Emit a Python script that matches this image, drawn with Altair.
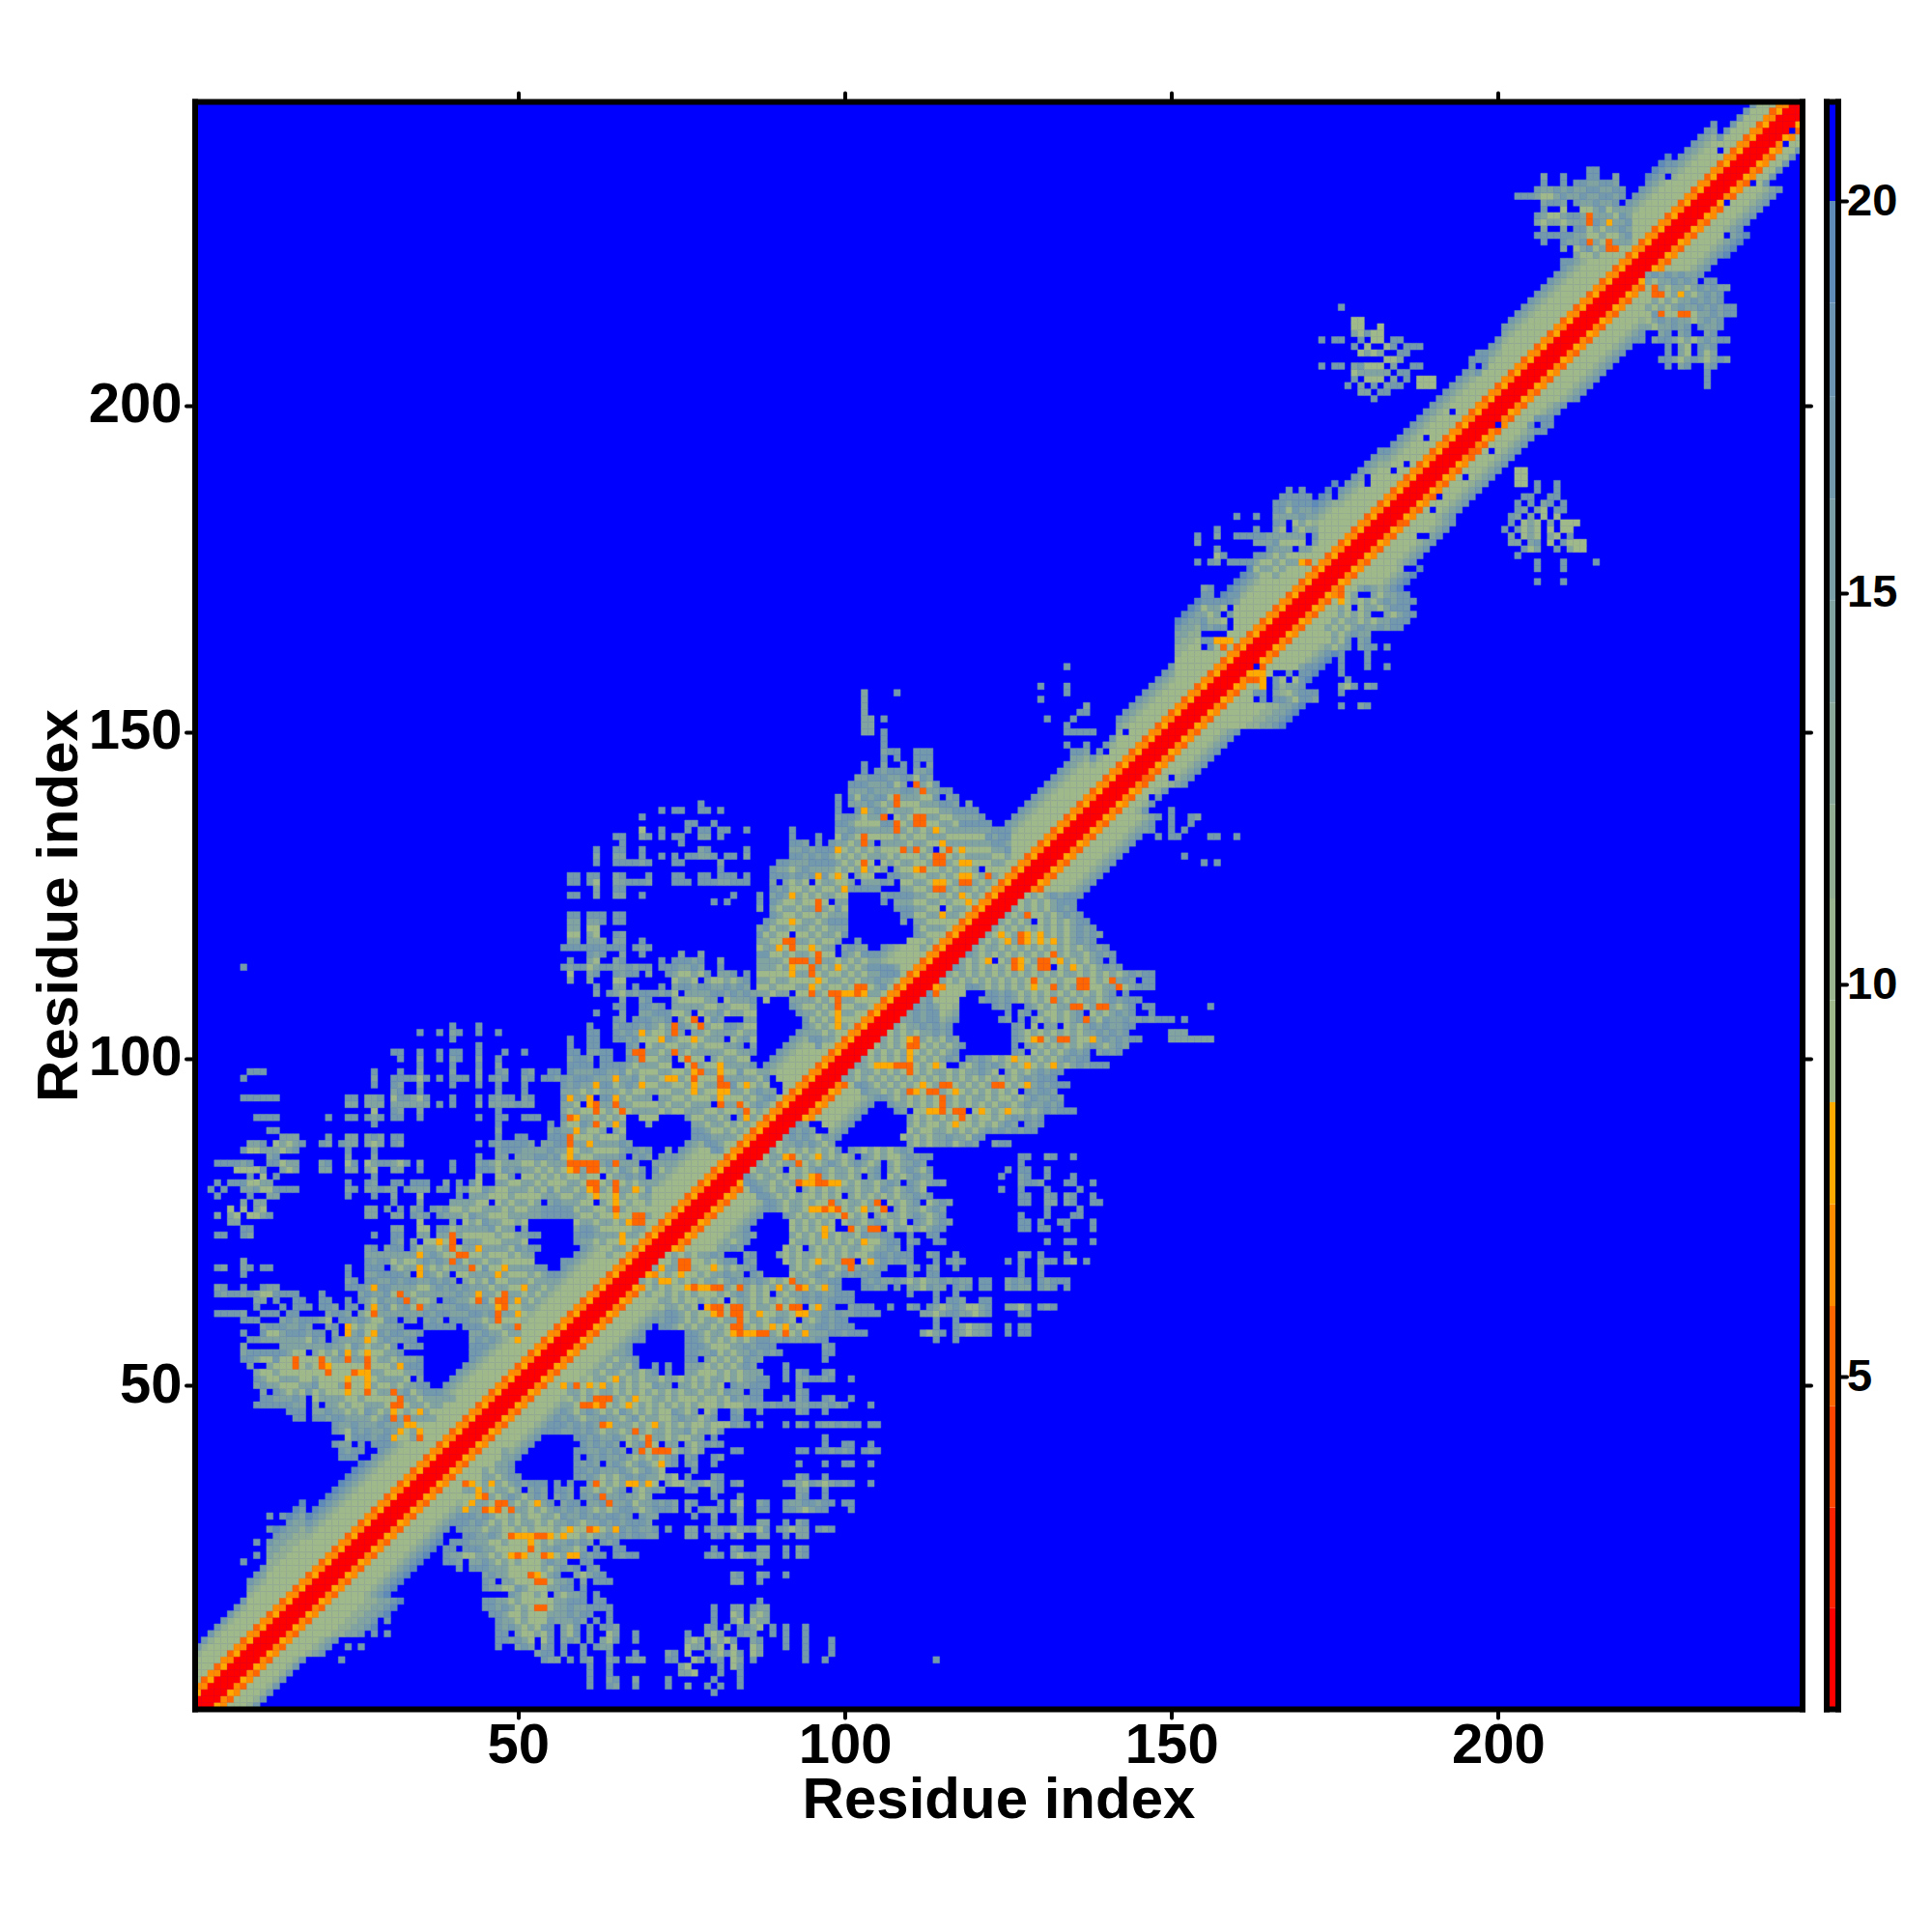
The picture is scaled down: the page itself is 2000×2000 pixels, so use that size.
import altair as alt
import pandas as pd

alt.data_transformers.disable_max_rows()

N_RES = 246
TICKS = [50, 100, 150, 200]
BAR_TICKS = [5, 10, 15, 20]
BREAKS = [2.05, 3.33, 4.62, 5.9, 7.2, 8.5, 9.8, 11.1, 12.3, 13.6, 14.9, 16.2, 17.5, 18.7, 20.0]
COLORS = ["#ff0000", "#ff2200", "#ff4500", "#ff6600", "#ff8c00", "#ffaa00",
          "#a0b98a", "#99b48f", "#92af94", "#8aa99a", "#82a4a0", "#7a9fa6",
          "#7299ac", "#6a94b2", "#5f8bb8", "#0000ff"]
BAR_EDGES = [0.76] + BREAKS + [21.27]
LEVEL = {"r": 1.4, "d": 5.2, "o": 6.5, "y": 7.8, "g": 9.1, "h": 11.7, "m": 14.2, "s": 16.8, "b": 19.3}

BAND_ODD = "rrryog"
BAND_EVEN = "rrrodg"
BAND_UP_ODD = "rryog"
BAND_UP_EVEN = "rrodg"
FADE = {5: "", 6: "s", 7: "gs", 8: "ghs", 9: "gghs", 10: "gghms", 11: "ggghms", 12: "ggghmsb", 13: "gggghmsb",
        15: "gggghhmmsb", 16: "ggggghhmmsb"}
REACH = [(1, 8, 9), (9, 11, 11), (12, 17, 15), (18, 26, 12), (27, 131, 11), (132, 137, 11), (138, 141, 8),
         (142, 150, 10), (151, 156, 16), (157, 165, 13), (166, 175, 13), (176, 182, 11), (183, 200, 10),
         (201, 222, 11), (223, 226, 12), (227, 233, 10), (234, 240, 7), (241, 246, 5)]
BLUE_DOTS = [(200, 197), (199, 193), (195, 189), (191, 186), (190, 184), (188, 180), (189, 180), (245, 242),
             (244, 240), (239, 234), (235, 231), (235, 226), (150, 143), (147, 140), (186, 175), (187, 175)]

ROWS = {
3: "80:s",
4: "61:s 64:sm 68:s 73:s 76:m 79:s 81:s 84:s",
5: "61:s 64:ms 68:m 73:s 80:s 84:s",
6: "61:s 64:s 75:mmg 81:s 84:s",
7: "61:s 64:s 75:mg 81:s 83:gs",
8: "22:.s 54:smm 58:s 60:sm 64:ms 67:smm 73:ss 77:gm 80:ms 83:gm 86:s 94:s 97:s 114:s",
9: "53:mss 57:s 60:s 64:s 68:s 73:ms 76:g 79:s 80:mgs 83:gs 86:gm 94:s 98:s",
10: "24:s.s 47:s 50:msm 54:ms 57:s 60:s 62:smm 76:gmm 80:sg 83:g 86:gm 91:s 94:s 98:s",
11: "47:ssmsmg 54:gs 57:msm 61:s 63:mgs 68:s 76:mgm 80:gmgs 86:ms 91:s 94:s 98:s",
12: "26:s.s.s 47:ss.mggmgs 57:mgs 61:s 64:gm 68:s 76:s 79:mgm 84:smm 89:s 91:s 94:s",
13: "47:smsmgmgss 57:mgs 61:s 63:ssm 79:ms 82:s 84:ssmg 89:s 91:s 94:s",
14: "29:.s 47:smmgmgggsmmmsm.s 64:s 80:s 83:mg 86:gmm",
15: "46:ssmggmgggmmmsmss 64:s 80:s 83:gm 86:mgm",
16: "45:ssmsmgmgddgmmsmmss 63:ss 80:s 83:mm 86:smm",
17: "45:ssmmgmgggggmmsss.ss 87:s",
18: "49:smggmg.mgmms.s",
19: "45:smmggsmgggmmss.s",
20: "45:sm.mmgggddgmms.m.sss 83:mm 87:s",
21: "45:msmmgggdygms..mgmss 83:ms 87:ms 91:s",
22: "41:s.sssmmmgggggmgmsms.sm",
23: "39:ssm.mmsmgmgmgggmsmm..ss 87:s",
24: "39:smmggmmgmgydyggdygmyysmss.sms 68:s 79:sms 83:mgmsmm 91:s 93:ms",
25: "39:ss.sssmmgggggdgmmsmmgm.s..ss 80:s 83:ms 87:mm 91:s 93:ms",
26: "39:.sssmmmggmgggygmgmmsmsm.sms",
27: "42:ssmmsmgdyyyddygyggmgmmsmsmsm 68:ssmm 76:mm 80:ms 83:mg 87:mm 91:s 93:mm",
28: "41:smmmgmmggmgmgggmgyggdygmysmss 68:smms 73:s 76:mm 79:smmsgmmsgs 90:smgmm 96:sms",
29: "41:ssmsmgmgmgmmgmgmmsmgmmsmsmssss 70:m 80:s 84:s 87:mm 91:s 93:ms",
30: "41:sssmsmggmgmggmmgsmmsmsmssms.ssm 70:m 77:s 80:m 84:s",
31: "42:ymmdydgdmmgmgmsmsmsmgmgmsss..s 68:mgmsssm 76:m 78:smms 83:mm 87:ss 91:ssmgms 97:s 101:s",
32: "42:gymmgddmgmgyms.mss.mmsdmmsmsg 68:gmmsmsm 76:ms 81:s 83:mg 87:ms 91:smmssms 98:s 100:ss",
33: "42:ggydmgmsmgmsm.msm.smsdmmsmmg 68:mgm 80:s 84:s 93:ms 97:s",
34: "42:mmymgmmgm.msm.ssm.mmgmgms.mm 68:mgmsm 76:sm 80:ms 93:mm 97:s",
35: "41:gdygmymgmsmsss.s.s..mdgmgmyymyg 73:mggmsmgms 83:sm 91:smmgsmgmsms 104:s",
36: "44:gmmgmss 58:.smsmgmgmsmsmmgmg 76:s 80:ms 93:ms 97:s",
37: "45:mgmms 59:ssmsmmmsmgmsmg 77:s",
38: "46:gmm 59:smsm.msmgmsmgym 74:s 76:sm 80:s 93:s 97:s 100:ss 104:s",
39: "47:gm 59:s.smsmmsmgmgmgm 74:s 76:ms 80:sm",
40: "48:m 59:ssmmsmsm.mdgdddgmgm 76:mgm 83:ss 93:ss 96:ssmsms 103:sms",
41: "59:.smsmsm.gmsdg.mm.mgmsmm 81:s 97:s 100:ss 104:s",
42: "59:ssmsmmsmgmgdmmgmgmsm 76:gm 80:s 97:s",
43: "55:ssmmsmsmgmmgmdmgmmgmmsgmmgs",
44: "56:ssmsmsmdymmmgmgymgmgmggmgggsms 85:s 87:s 91:s 93:ms 96:smmsmss 104:ss",
45: "56:smsmgmmsmmgmsgmmggmsmmgms 83:ss",
46: "57:smgmsmgmgsmgmgmggsm 76:gm 79:gm 83:sm 87:s 93:ms 97:s",
47: "58:mgddydgmgygmgmgmgmgmgggmgggmmmsms 91:ssmmssmsms 104:s",
48: "58:gmgmdddmgmyggmmgmgggmggmgm 83:smmss 91:s 93:ms 97:sm 101:s",
49: "58:mmgmgmmgmgmgmgmgmgmmgmmgsmm.ss 93:ms",
50: "57:ymdgygymgmgmggsmg 73:m 75:mmgmgmg 83:smmsss 93:s",
51: "61:gmmgymgmgmmgmmgmgmgmmgmgmmss 91:s 93:mmssms 101:s",
52: "62:mgmmgmmgms 73:s 76:mmgggmgmgmmm 91:s 93:ms 97:sm",
53: "63:mgmmgs 71:s 73:s 76:mmmgmgmgmsm 91:s",
54: "64:mgmms 76:ss 79:mgmgmgsmm 97:s",
55: "65:mms 76:ssmmsgmgmmsmsms 97:ss",
56: "66:ms 76:sssmgggmmsmsss 97:ms",
57: "68:ss 76:ssmgmgmgmgmssmmsmmsmss 114:s 117:s",
58: "76:ssmgmmg 83:ydyydd 89:mgd 92:gmy 95:mmmssmsss 112:mgms 117:smgmms 125:s 127:ss",
59: "72:ssmgmgmmgmgd 84:d 85:mgmgyg 91:y 92:mgmmssmsss 114:s 117:smgmms 125:s 127:ss",
60: "72:mssmgmgmmgmmd 85:gmmgmsmg.mgmsmss 114:s 117:s",
61: "72:mssmgmggyd 82:gdd 85:gmyggmmgy 94:y 95:mmsmsmmssss 112:mm 114:gms 117:smmgms 127:ss",
62: "72:gmmgmg.yd 81:d 82:gdd 85:mgmmgdgdd 95:gyms..msss 107:s 110:ms 113:smgmms 117:smggms 125:mm 127:gs 130:sms",
63: "72:mmgmggmgmg.gmmgmgmgmgmsmsmssss 114:s 116:ssm 121:ss",
64: "70:mggmgmgmgggmgmsmgmg.mgmmsmsmmsss 110:s 114:s 117:s",
65: "70:gmgmggydyydd 82:mgdmgmgmymgdymgyms 103:ssm 106:s 108:s 110:mmgsmm 117:sms 121:ss 125:msmm 130:sms 134:s",
66: "68:gmgmyygmgmgmmgmsmsmsmgmgdmmgmmss 103:smsmmsmgmgmmsmsmm 121:ss 125:msmm 128:s 130:sms 133:ss",
67: "72:gmgyggmgmmsmm.sm 92:gmgmsmgmsmsmss 110:s 113:ss 127:s 130:s",
68: "70:gmymmdd 78:ggy 81:gmgms 85:ms 92:mgmgmsmgmdmsmss 110:ms 113:sm 117:s 127:s 130:s",
69: "71:mggmddggmgmss 85:sm 91:gmgmgyggmdd 103:gymsm 108:sms 114:s 116:sms 125:s 127:s 130:mss 134:mg 137:s",
70: "71:gmgmgmgmmsm 85:ms 90:mgmgmmgmgmgmggmssmss 110:s 113:ms 117:s 127:ms 130:s 134:s",
71: "79:ggmmsm 91:gmg.mgmgmgmmggmmsm 110:s",
72: "82:mgms 92:gmmgmgmgmgmyggmss 110:ms 114:ss 131:s 134:ss 138:s",
73: "84:msm 92:mgmgmymgmmgsmmss 110:s 113:ss",
74: "92:gmgmgyg..dgmdd.gmmgmgmss 127:ss 130:ss 134:s 138:s",
75: "92:gmgmgmg.gmmgmsmgmg.smgmsm 127:ss 130:s 133:ss 138:s",
76: "91:smgmgmgmgdgmg.mgmmgmsmgms 127:s 131:s 135:ss",
77: "89:smgmmgyydydgmgymgd.mgmmgmsm 131:s 136:s",
78: "88:ssmgmmgmggdmgmmgmd.gmgms.gmsm 127:ss 131:mm 134:ms 138:ss",
79: "87:ssmgmgmggmgmg.mgmgmgmgmmsms 127:ss 131:ms 134:ms 138:s",
80: "86:ssmgmmg.mgmgmgmmgmmgsmgmsmg 124:s 127:s 131:s 136:s",
81: "85:ssmmgmgmdyyddyygmgmmgmsm.smgmsm 127:mssm 134:ss 138:s",
82: "84:ssmgmmgmgmgydmgmmgm.ms.gmgmsmm 124:s 127:ms 131:s 135:s",
83: "84:smgmmgm.gmgmsmgmmgmgms.mgmsmgs 125:s 127:ss 131:s",
84: "84:mmgmgmgmmdgmgmsmgmsmgm.mgmmsm 127:s",
85: "83:ssmgmgmmydgmgymgmgm.smgmggmsmss 127:ss 131:ms 135:s",
86: "83:smgmmgmgmgmgmgmgs.smgmgmgmsm",
87: "82:ssmgmgmggmmsmsmgm 103:.......mgmgmmsgmsm 123:mss",
88: "81:ssmgmgmgygmsmsmgs 102:.......gmgmgmmsmmgss",
89: "81:smmgmgmgmsmsmsm.. 110:gmggmmgmgmgmsmsmsmss",
90: "80:smgmmgmgmgmsmsm.. 110:mgmggmgyggmgmgmsm.sms",
91: "81:mgmgmgmsmsmsm 110:mgmgmgmgdgmggmgmsmsms",
92: "82:gmgmgmmsmsms 108:sm.ggyydgdd.gygmgyggmgmsmsss",
93: "83:gmgmmsmssss 107:smmgmgmgdmgmgmgmgmmgmsmmsms",
94: "84:mgmgmsmss 105:ssmgmgmgmgdmgmgmmgmggmgmsmmsm",
95: "85:mgmmsms 103:smmgmgmdygddmgygmgmgmgmg.smssm",
96: "86:mgmsms 102:ssmgmgmgmgygmddgmgmgmddgmgymsmsss",
97: "87:gmmss 100:mmgmgmgmgmgmgmgmgmgmgmgmgmgmsmsss",
98: "88:gmsm 99:mgmgmmgmgmgdgmgmmgmgmmsmg.mgmgmsmss",
99: "89:gms 99:gmgmmgyyyddd 111:gmgyg 118:mgmsmsmgmgygmgymgmsmsss",
100: "90:gm 100:mmgmgmgmgmymgmgmsm.smsmgmgyggmgmgmsmss",
101: "98:ggmgmmgmgmgmygmgmgms 119:.......sm.gmgmgmsms.msms",
102: "99:gdd 103:gygmgmgddgmgmgms 119:.......s.mmgmgmgmgmsmgmsm",
103: "101:dyymgmgmgydmgmgsm 119:.......smgydgmddmggymsmsmss 150:mmmmmmm",
104: "103:gmgmgmgmgmmsms 119:.......smgmgmgmgmgmmsmsms 150:mmm",
105: "105:gmgmgmmsms 118:........sm.g.mm.gmgmsmsmmss",
106: "106:gmgmmsmss 118:......sm.s.mgmgmgmsdmgsmmsmmsmss 150:s 152:s",
107: "107:ggmmsmss 118:.......s.ms.mggmgms.gmgmsms 147:s",
108: "108:gmmsmsm 118:.....sms..smgmgmmddgmddmgms.ss 156:s",
109: "109:gmsms 118:...mssmsmgmgmgdmgmgmmgmsmsss",
110: "110:gmms 119:...ssmsmgmgmgmgmgmgmgms.s",
111: "111:gms 119:ssmgmgmgmgyggdmgmddggmmdgmsss",
112: "112:gmsmgmgmgmgmgmgmgdgmgmggddgmgdmsm.ss",
113: "113:gmsmgmgmgmgmgmgmgmgmgmmgmgmgmgmsmss",
114: "114:gmmsmgmgmgmgdymgdd 133:gmygmgmsms",
115: "115:gmsmgmgy.gmdygmddgymgmgms.s",
116: "116:gmmsmgmgmgmgmgmgdmgmmgmsms",
117: "117:gmsmgmmgmgmgmgmgmgmgmsms",
118: "118:gmsmgmgymdygyggyd 132:ymgmsms",
119: "119:gmsmgygmdygymgmgmsmsm",
120: "120:gmsmgmgmgmgmgmgmsms",
121: "121:gmsmgmgm.gmgmgmss",
122: "122:gmsmgmdggmgmsms",
123: "123:gmgmgmgmgmsms",
124: "124:ggmgmgmgmss",
125: "125:ggmgmgmsmss",
130: "155:s 157:s",
131: "152:s",
134: "148:s 150:ss 156:ss 160:s",
135: "146:ms..s 152:s",
136: "150:s 153:s",
137: "150:s 153:sm",
138: "150:s",
143: "146:dd",
154: "176:s 179:ms",
155: "163:.s.ss 168:mgs 171:sm",
156: "163:ss.m 168:gms 171:ss 176:s",
157: "164:y.s 169:ms 176:mgs 180:ms",
158: "163:dy.s 168:.g 177:s",
159: "163:yy 166:.. 168:s.s 176:s",
160: "161:y 163:. 170:ms 176:s 180:s 183:s",
161: "176:s 180:s",
162: "176:s 180:s",
163: "175:gms 179:mss 183:s",
164: "174:gmgs 179:ms",
165: "174:gmgms 179:mm",
166: "174:mgmgmsmmsmss",
167: "174:gmgmmgmgmmsss",
168: "175:gmgmgm..mgmss",
169: "175:gmg.gmmgmsss",
170: "176:y 177:gmgmgmsmsss",
171: "176:d 177:gm..mgmmss",
172: "178:gmsm",
173: "206:s 210:s",
175: "206:s 210:s",
176: "206:s 210:s 215:s",
177: "203:s",
178: "204:sgm 209:s 211:mgg",
179: "202:mm.ms 208:g.s 211:ggg",
180: "202:m.gmg.mg.s",
181: "201:s.sgmg.g.gg",
182: "184:dd 202:s.gmg.m.ggg",
183: "202:sm.m.g.g",
184: "203:sm 206:mg 209:ss",
185: "203:s.s 207:ms.s",
186: "204:ss 208:ss",
187: "206:s 209:s",
188: "203:gg 206:s 209:s",
189: "203:gg",
190: "203:gg",
193: "196:dd",
196: "206:ss",
197: "205:s.ss",
198: "206:ss",
203: "232:s",
204: "232:s",
205: "232:s",
206: "226:s 228:ms 232:ms",
207: "225:ss 227:mgms 230:smgmsm",
208: "226:s 228:mg 231:s 232:gm",
209: "226:s 228:mg 231:s 232:ms",
210: "222:s 224:mssmgmgmsmss",
211: "225:ms 228:ms 232:ms",
212: "223:mgmmsms 231:smms",
213: "223:gmsmsmmgms 233:ms",
214: "223:gsdggddgmmsmss",
215: "223:mgmgmsmmsmsmss",
216: "223:gmgmgmmsmsms",
217: "223:gddgmymgmsms",
218: "223:gdmgmmgmsmsmm",
219: "223:mgmmsmsm 232:ss",
220: "223:msmsmsm",
}

cells = {}
for lo, hi, reach in REACH:
    for y in range(lo, hi + 1):
        profile = (BAND_ODD if y % 2 else BAND_EVEN) + FADE.get(reach, FADE[13])
        for off, ch in enumerate(profile):
            x = y + off
            if x <= N_RES:
                cells[(x, y)] = ch

for y, text in ROWS.items():
    for seg in text.split():
        start, _, chars = seg.partition(":")
        for k, ch in enumerate(chars):
            x = int(start) + k
            if x > N_RES or x - y < 3:
                continue
            if ch == ".":
                cells.pop((x, y), None)
            else:
                cells[(x, y)] = ch

for dot in BLUE_DOTS:
    cells.pop(dot, None)

full = {}
for (x, y), ch in cells.items():
    full[(x, y)] = ch
    full[(y, x)] = ch
for y in range(1, N_RES + 1):
    up = BAND_UP_ODD if y % 2 else BAND_UP_EVEN
    for off, ch in enumerate(up):
        if y + off <= N_RES:
            full[(y, y + off)] = ch

records = [{"x": x - 0.5, "x2": x + 0.5, "y": y - 0.5, "y2": y + 0.5, "v": LEVEL[ch]}
           for (x, y), ch in full.items()]
cell_df = pd.DataFrame(records)

FONT = "Liberation Sans"
xdom = alt.Scale(domain=[0.5, 246.5], nice=False, zero=False)
ydom = alt.Scale(domain=[0.5, 246.5], nice=False, zero=False)
cscale = alt.Scale(type="threshold", domain=BREAKS, range=COLORS)


def axis(orient, values=None, labels=False, title=None, size=58, pad=2, tick=True, tpad=0):
    kw = dict(orient=orient, labels=labels, grid=False, domain=True, domainColor="black", domainWidth=6,
              domainCap="square", ticks=tick, zindex=1, title=title)
    if tick:
        kw.update(values=values, tickColor="black", tickWidth=4, tickSize=9, tickCap="round")
    else:
        kw.update(values=[])
    if labels:
        kw.update(labelFont=FONT, labelFontSize=size, labelFontWeight="bold", labelColor="black",
                  labelPadding=pad, labelOverlap=False, labelFlush=False)
    if title:
        kw.update(titleFont=FONT, titleFontSize=60, titleFontWeight="bold", titleColor="black",
                  titlePadding=tpad)
    return alt.Axis(**kw)


cells_layer = alt.Chart(cell_df).mark_rect(strokeWidth=0.5).encode(
    x=alt.X("x:Q", scale=xdom, axis=axis("bottom", TICKS, True, "Residue index", pad=0, tpad=-2)),
    x2="x2:Q",
    y=alt.Y("y:Q", scale=ydom, axis=axis("left", TICKS, True, "Residue index", pad=4.5, tpad=-1)),
    y2="y2:Q",
    color=alt.Color("v:Q", scale=cscale, legend=None),
    stroke=alt.Stroke("v:Q", scale=cscale, legend=None),
)
frame_df = pd.DataFrame({"x": [1.0], "y": [1.0]})
frame_layer = alt.Chart(frame_df).mark_point(opacity=0).encode(
    x=alt.X("x:Q", scale=xdom, axis=axis("top", TICKS)),
    y=alt.Y("y:Q", scale=ydom, axis=axis("right", TICKS)),
)
heat = alt.layer(cells_layer, frame_layer).resolve_axis(x="independent", y="independent").properties(
    width=1664, height=1664, view=alt.ViewConfig(fill="#0000ff", stroke=None))

bar_df = pd.DataFrame({"lo": BAR_EDGES[:-1], "hi": BAR_EDGES[1:], "a": 0.0, "b": 1.0})
bar_df["mid"] = (bar_df["lo"] + bar_df["hi"]) / 2
bx = alt.Scale(domain=[0, 1], nice=False, zero=False)
by = alt.Scale(domain=[0.76, 21.27], nice=False, zero=False)
bar_rects = alt.Chart(bar_df).mark_rect().encode(
    x=alt.X("a:Q", scale=bx, axis=axis("bottom", tick=False)),
    x2="b:Q",
    y=alt.Y("lo:Q", scale=by, axis=axis("left", tick=False)),
    y2="hi:Q",
    color=alt.Color("mid:Q", scale=cscale, legend=None),
)
bar_frame = alt.Chart(frame_df.assign(a=0.0, b=1.0)).mark_point(opacity=0).encode(
    x=alt.X("a:Q", scale=bx, axis=axis("top", tick=False)),
    y=alt.Y("x:Q", scale=by, axis=axis("right", BAR_TICKS, True, size=47, pad=0)),
)
bar = alt.layer(bar_rects, bar_frame).resolve_axis(x="independent", y="independent").properties(
    width=12, height=1664, view=alt.ViewConfig(stroke=None))

chart = alt.hconcat(heat, bar, spacing=11).properties(
    padding={"left": 22.5, "top": 86, "right": 5, "bottom": 5},
    background="white",
)
chart.save("out.html", embed_options={"renderer": "svg", "actions": False})
